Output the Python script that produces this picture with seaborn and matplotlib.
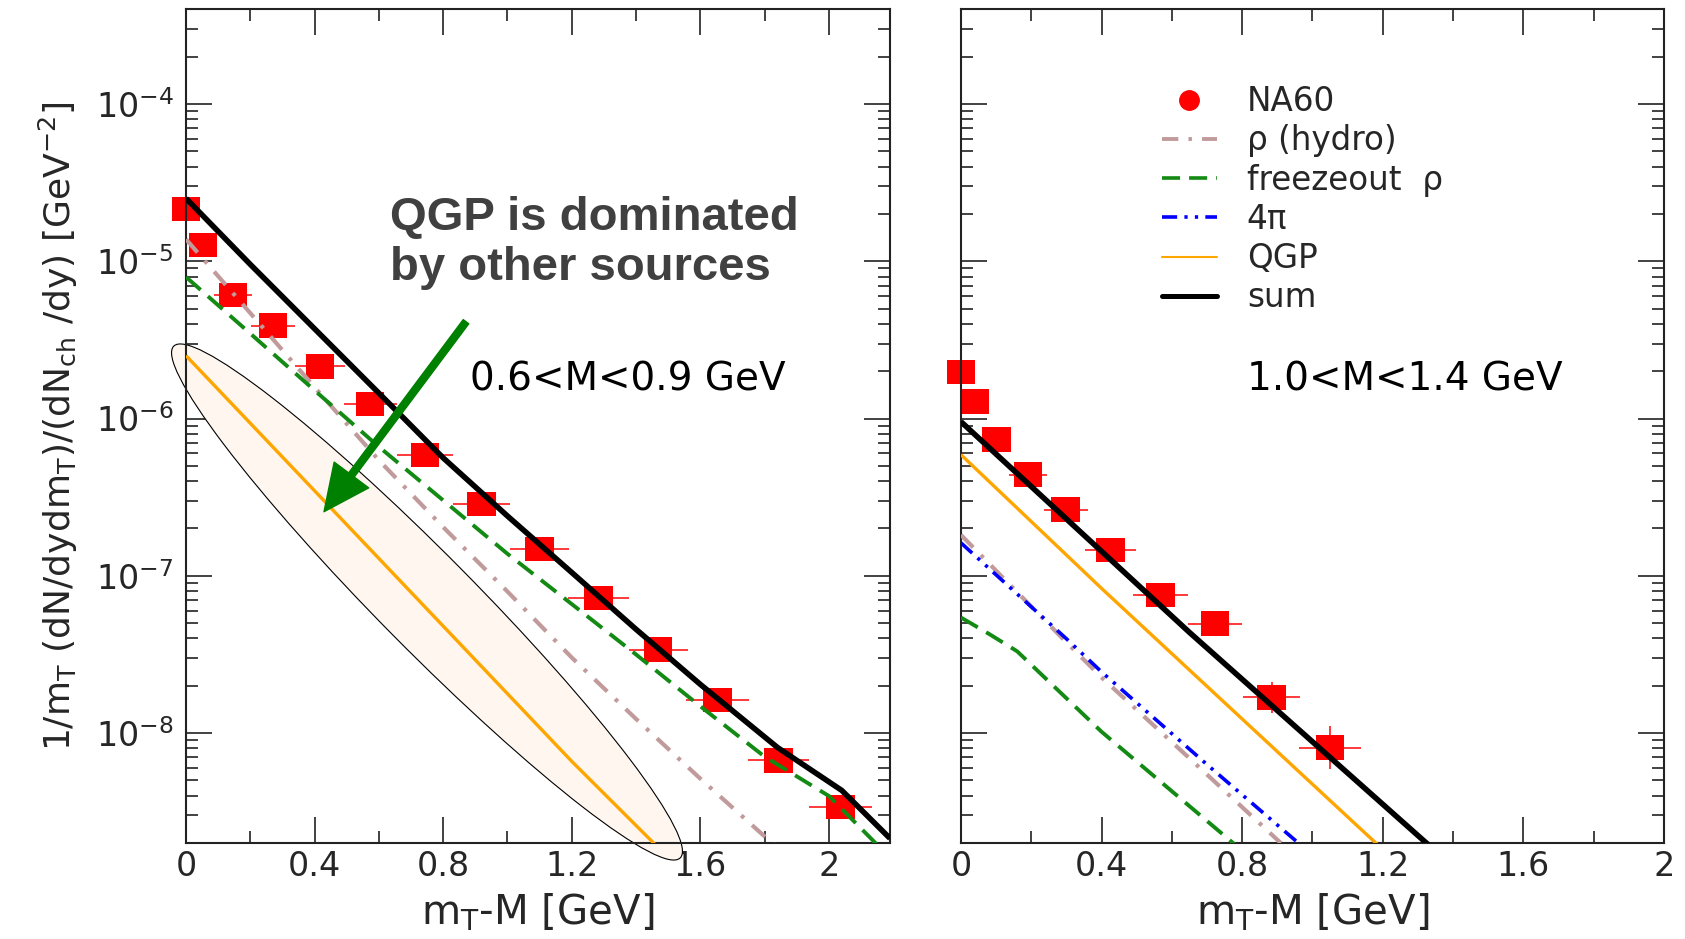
import numpy as np
import pandas as pd
import matplotlib
matplotlib.use("Agg")
import matplotlib.pyplot as plt
import seaborn as sns
from matplotlib.patches import Ellipse
from matplotlib.lines import Line2D
from matplotlib.path import Path
from matplotlib.ticker import FixedLocator, LogLocator, NullFormatter

# ---------------- data ----------------
# Left panel: 0.6 < M < 0.9 GeV
na60_L_x = [0.0, 0.053, 0.146, 0.27, 0.417, 0.573, 0.744, 0.919, 1.099, 1.283, 1.469, 1.654, 1.843, 2.036]
na60_L_y = [2.15e-5, 1.27e-5, 6.1e-6, 3.89e-6, 2.15e-6, 1.24e-6, 5.88e-7, 2.86e-7, 1.48e-7,
            7.24e-8, 3.39e-8, 1.62e-8, 6.7e-9, 3.39e-9]
na60_L_xerr = [0.0, 0.03, 0.06, 0.068, 0.078, 0.082, 0.088, 0.089, 0.091, 0.095, 0.092, 0.098, 0.096, 0.097]

sum_L_x = [0.0, 0.2, 0.4, 0.6, 0.8, 1.0, 1.2, 1.4, 1.6, 1.84, 2.04, 2.19]
sum_L_y = [2.51e-5, 9.55e-6, 3.72e-6, 1.45e-6, 5.62e-7, 2.40e-7, 1.05e-7, 4.57e-8, 2.04e-8,
           8.1e-9, 4.32e-9, 2.14e-9]

fo_L_x = [0.0, 0.2, 0.4, 0.6, 0.8, 1.0, 1.2, 1.4, 1.6, 1.8, 2.0, 2.16]
fo_L_y = [7.94e-6, 3.47e-6, 1.51e-6, 6.61e-7, 3.02e-7, 1.38e-7, 6.61e-8, 3.16e-8, 1.48e-8,
          7.08e-9, 3.98e-9, 1.86e-9]

rho_L_x = [0.0, 0.2, 0.4, 0.6, 0.8, 1.0, 1.2, 1.4, 1.6, 1.84]
rho_L_y = [1.38e-5, 4.68e-6, 1.58e-6, 5.43e-7, 2.04e-7, 7.94e-8, 3.02e-8, 1.23e-8, 5.13e-9, 1.86e-9]

qgp_L_x = [0.0, 0.4, 0.8, 1.2, 1.46]
qgp_L_y = [2.51e-6, 3.47e-7, 4.79e-8, 6.61e-9, 1.95e-9]

# Right panel: 1.0 < M < 1.4 GeV
na60_R_x = [0.0, 0.038, 0.101, 0.19, 0.298, 0.426, 0.568, 0.723, 0.884, 1.05]
na60_R_y = [1.97e-6, 1.28e-6, 7.36e-7, 4.4e-7, 2.64e-7, 1.46e-7, 7.53e-8, 4.97e-8, 1.69e-8, 8.09e-9]
na60_R_xerr = [0.0, 0.02, 0.04, 0.054, 0.063, 0.073, 0.078, 0.077, 0.082, 0.087]
na60_R_yerr_dex = [0.0, 0.0, 0.0, 0.0, 0.0, 0.0, 0.01, 0.015, 0.10, 0.137]

sum_R_x = [0.0, 0.65, 1.34]
sum_R_y = [9.55e-7, 4.37e-8, 1.86e-9]

qgp_R_x = [0.0, 0.4, 0.8, 1.19]
qgp_R_y = [5.89e-7, 8.32e-8, 1.23e-8, 1.91e-9]

rho_R_x = [0.0, 0.29, 0.4, 0.65, 0.91]
rho_R_y = [1.82e-7, 3.98e-8, 2.26e-8, 6.92e-9, 2.0e-9]

pi4_R_x = [0.0, 0.3, 0.4, 0.7, 0.96]
pi4_R_y = [1.62e-7, 3.98e-8, 2.45e-8, 6.31e-9, 2.0e-9]

fo_R_x = [0.0, 0.08, 0.16, 0.4, 0.6, 0.78]
fo_R_y = [5.43e-8, 4.27e-8, 3.31e-8, 1.02e-8, 4.27e-9, 1.95e-9]

xtick_major = [0.0, 0.4, 0.8, 1.2, 1.6, 2.0]
xtick_labels = ["0", "0.4", "0.8", "1.2", "1.6", "2"]
xtick_minor = [0.2, 0.6, 1.0, 1.4, 1.8]

legend_labels = ["NA60", "ρ (hydro)", "freezeout  ρ", "4π", "QGP", "sum"]

# ---------------- style ----------------
sns.set_theme(style="ticks")
plt.rcParams['font.family'] = ['DejaVu Sans']
plt.rcParams['mathtext.fontset'] = 'dejavusans'

C_DATA = '#ff0000'
C_ERR = '#ff3a3a'
C_RHO = '#c19b9b'
C_FO = '#138a13'
C_4PI = '#0000ff'
C_QGP = '#ffa500'
C_SUM = '#000000'

D_RHO = [4.2, 2.6, 0.9, 2.6]
D_FO = [5.0, 2.5]
D_4PI = [4.2, 2.0, 0.9, 2.0, 0.9, 2.0]

YMIN, YMAX = 2.0e-9, 4.0e-4

fig = plt.figure(figsize=(16.85, 9.39), dpi=100)
axL = fig.add_axes([0.1104, 0.1022, 0.4178, 0.8879])
axR = fig.add_axes([0.5703, 0.1022, 0.4172, 0.8879])

rect = Path([(-0.58, -0.5), (0.58, -0.5), (0.58, 0.5), (-0.58, 0.5), (-0.58, -0.5)],
            [Path.MOVETO, Path.LINETO, Path.LINETO, Path.LINETO, Path.CLOSEPOLY])


def style_axes(ax, xmax, ylabels):
    ax.set_yscale('log')
    ax.set_xlim(0, xmax)
    ax.set_ylim(YMIN, YMAX)
    ax.set_xticks(xtick_major)
    ax.set_xticklabels(xtick_labels)
    ax.xaxis.set_minor_locator(FixedLocator(xtick_minor))
    ax.yaxis.set_major_locator(LogLocator(base=10, numticks=30))
    ax.yaxis.set_minor_locator(LogLocator(base=10, subs=np.arange(2, 10), numticks=30))
    ax.yaxis.set_minor_formatter(NullFormatter())
    ax.tick_params(which='both', direction='in', top=True, right=True,
                   color='#333333', width=1.3)
    ax.tick_params(which='major', length=19)
    ax.tick_params(which='minor', length=8.6)
    ax.tick_params(axis='x', which='major', labelsize=24, pad=5)
    ax.tick_params(axis='y', which='major', labelsize=24, pad=9)
    for s in ax.spines.values():
        s.set_linewidth(1.5)
        s.set_color('#222222')
        s.set_visible(True)
    if not ylabels:
        ax.tick_params(axis='y', labelleft=False)
    ax.set_xlabel(r"m$_{\mathrm{T}}$-M [GeV]", fontsize=29)
    ax.xaxis.set_label_coords(0.5, -0.058)


def draw_line(ax, x, y, color, lw, dashes=None, z=3):
    df = pd.DataFrame({'x': x, 'y': y})
    sns.lineplot(data=df, x='x', y='y', ax=ax, color=color, lw=lw,
                 estimator=None, sort=False, legend=False, zorder=z)
    ln = ax.lines[-1]
    if dashes is not None:
        ln.set_dashes(dashes)
    ln.set_solid_capstyle('butt')
    ln.set_dash_capstyle('butt')


def draw_data(ax, x, y, xerr, yerr_dex=None):
    y = np.asarray(y)
    if yerr_dex is None:
        yerr = None
    else:
        d = np.asarray(yerr_dex)
        yerr = [y * (1 - 10 ** (-d)), y * (10 ** d - 1)]
    ax.errorbar(x, y, xerr=xerr, yerr=yerr, fmt='none', ecolor=C_ERR,
                elinewidth=1.4, capsize=0, zorder=2)
    df = pd.DataFrame({'x': x, 'y': y})
    sns.scatterplot(data=df, x='x', y='y', ax=ax, marker=rect, s=420,
                    color=C_DATA, edgecolor='none', linewidth=0, zorder=2.5,
                    legend=False, clip_on=False)


for ax in (axL, axR):
    ax.set_yscale('log')

# ---- left panel ----
ell = Ellipse((4.27, 3.37), width=7.20, height=0.95, angle=-45.3,
              transform=fig.dpi_scale_trans, facecolor='#fef6ef',
              edgecolor='black', lw=0.8, zorder=1.5, clip_on=False)
axL.add_patch(ell)

draw_data(axL, na60_L_x, na60_L_y, na60_L_xerr)
draw_line(axL, qgp_L_x, qgp_L_y, C_QGP, 2.4)
draw_line(axL, rho_L_x, rho_L_y, C_RHO, 3.0, D_RHO)
draw_line(axL, fo_L_x, fo_L_y, C_FO, 2.8, D_FO)
draw_line(axL, sum_L_x, sum_L_y, C_SUM, 4.0, z=3.5)
style_axes(axL, 2.19, True)
axL.set_ylabel(r"1/m$_{\mathrm{T}}$ (dN/dydm$_{\mathrm{T}}$)/(dN$_{\mathrm{ch}}$ /dy) [GeV$^{-2}$]",
               fontsize=26)
axL.yaxis.set_label_coords(-0.15, 0.5)

# ---- right panel ----
draw_data(axR, na60_R_x, na60_R_y, na60_R_xerr, na60_R_yerr_dex)
draw_line(axR, fo_R_x, fo_R_y, C_FO, 2.8, D_FO)
draw_line(axR, rho_R_x, rho_R_y, C_RHO, 3.0, D_RHO)
draw_line(axR, pi4_R_x, pi4_R_y, C_4PI, 2.6, D_4PI)
draw_line(axR, qgp_R_x, qgp_R_y, C_QGP, 2.4)
draw_line(axR, sum_R_x, sum_R_y, C_SUM, 4.0, z=3.5)
style_axes(axR, 2.0, False)
axR.set_ylabel("")

# legend
handles = [
    Line2D([], [], ls='none', marker='o', ms=14, color=C_DATA, mec=C_DATA),
    Line2D([], [], color=C_RHO, lw=2.8, dashes=D_RHO),
    Line2D([], [], color=C_FO, lw=2.6, dashes=D_FO),
    Line2D([], [], color=C_4PI, lw=2.6, dashes=D_4PI),
    Line2D([], [], color=C_QGP, lw=1.5),
    Line2D([], [], color=C_SUM, lw=3.6),
]
axR.legend(handles, legend_labels, loc='upper left', bbox_to_anchor=(0.2855, 0.909),
           frameon=False, fontsize=23.5, handlelength=1.69, handletextpad=0.92,
           labelspacing=0.19, borderpad=0, borderaxespad=0)

# annotations
fig.text(470 / 1685, 1 - 390 / 939, "0.6<M<0.9 GeV", fontsize=28, color='black',
         ha='left', va='baseline')
fig.text(1247 / 1685, 1 - 390 / 939, "1.0<M<1.4 GeV", fontsize=28, color='black',
         ha='left', va='baseline')
fig.text(390 / 1685, 1 - 230 / 939, "QGP is dominated", fontsize=34, color='#404040',
         family=['Liberation Sans', 'DejaVu Sans'], weight='bold', ha='left', va='baseline')
fig.text(390 / 1685, 1 - 280 / 939, "by other sources", fontsize=34, color='#404040',
         family=['Liberation Sans', 'DejaVu Sans'], weight='bold', ha='left', va='baseline')

axL.annotate('', xy=(324, 939 - 511.7), xycoords='figure pixels',
             xytext=(466, 939 - 321.7), textcoords='figure pixels',
             arrowprops=dict(arrowstyle='simple,head_length=33,head_width=31,tail_width=5',
                             mutation_scale=1, color='#008000', shrinkA=0, shrinkB=0),
             annotation_clip=False, zorder=10)

fig.savefig("out.png", dpi=100)
